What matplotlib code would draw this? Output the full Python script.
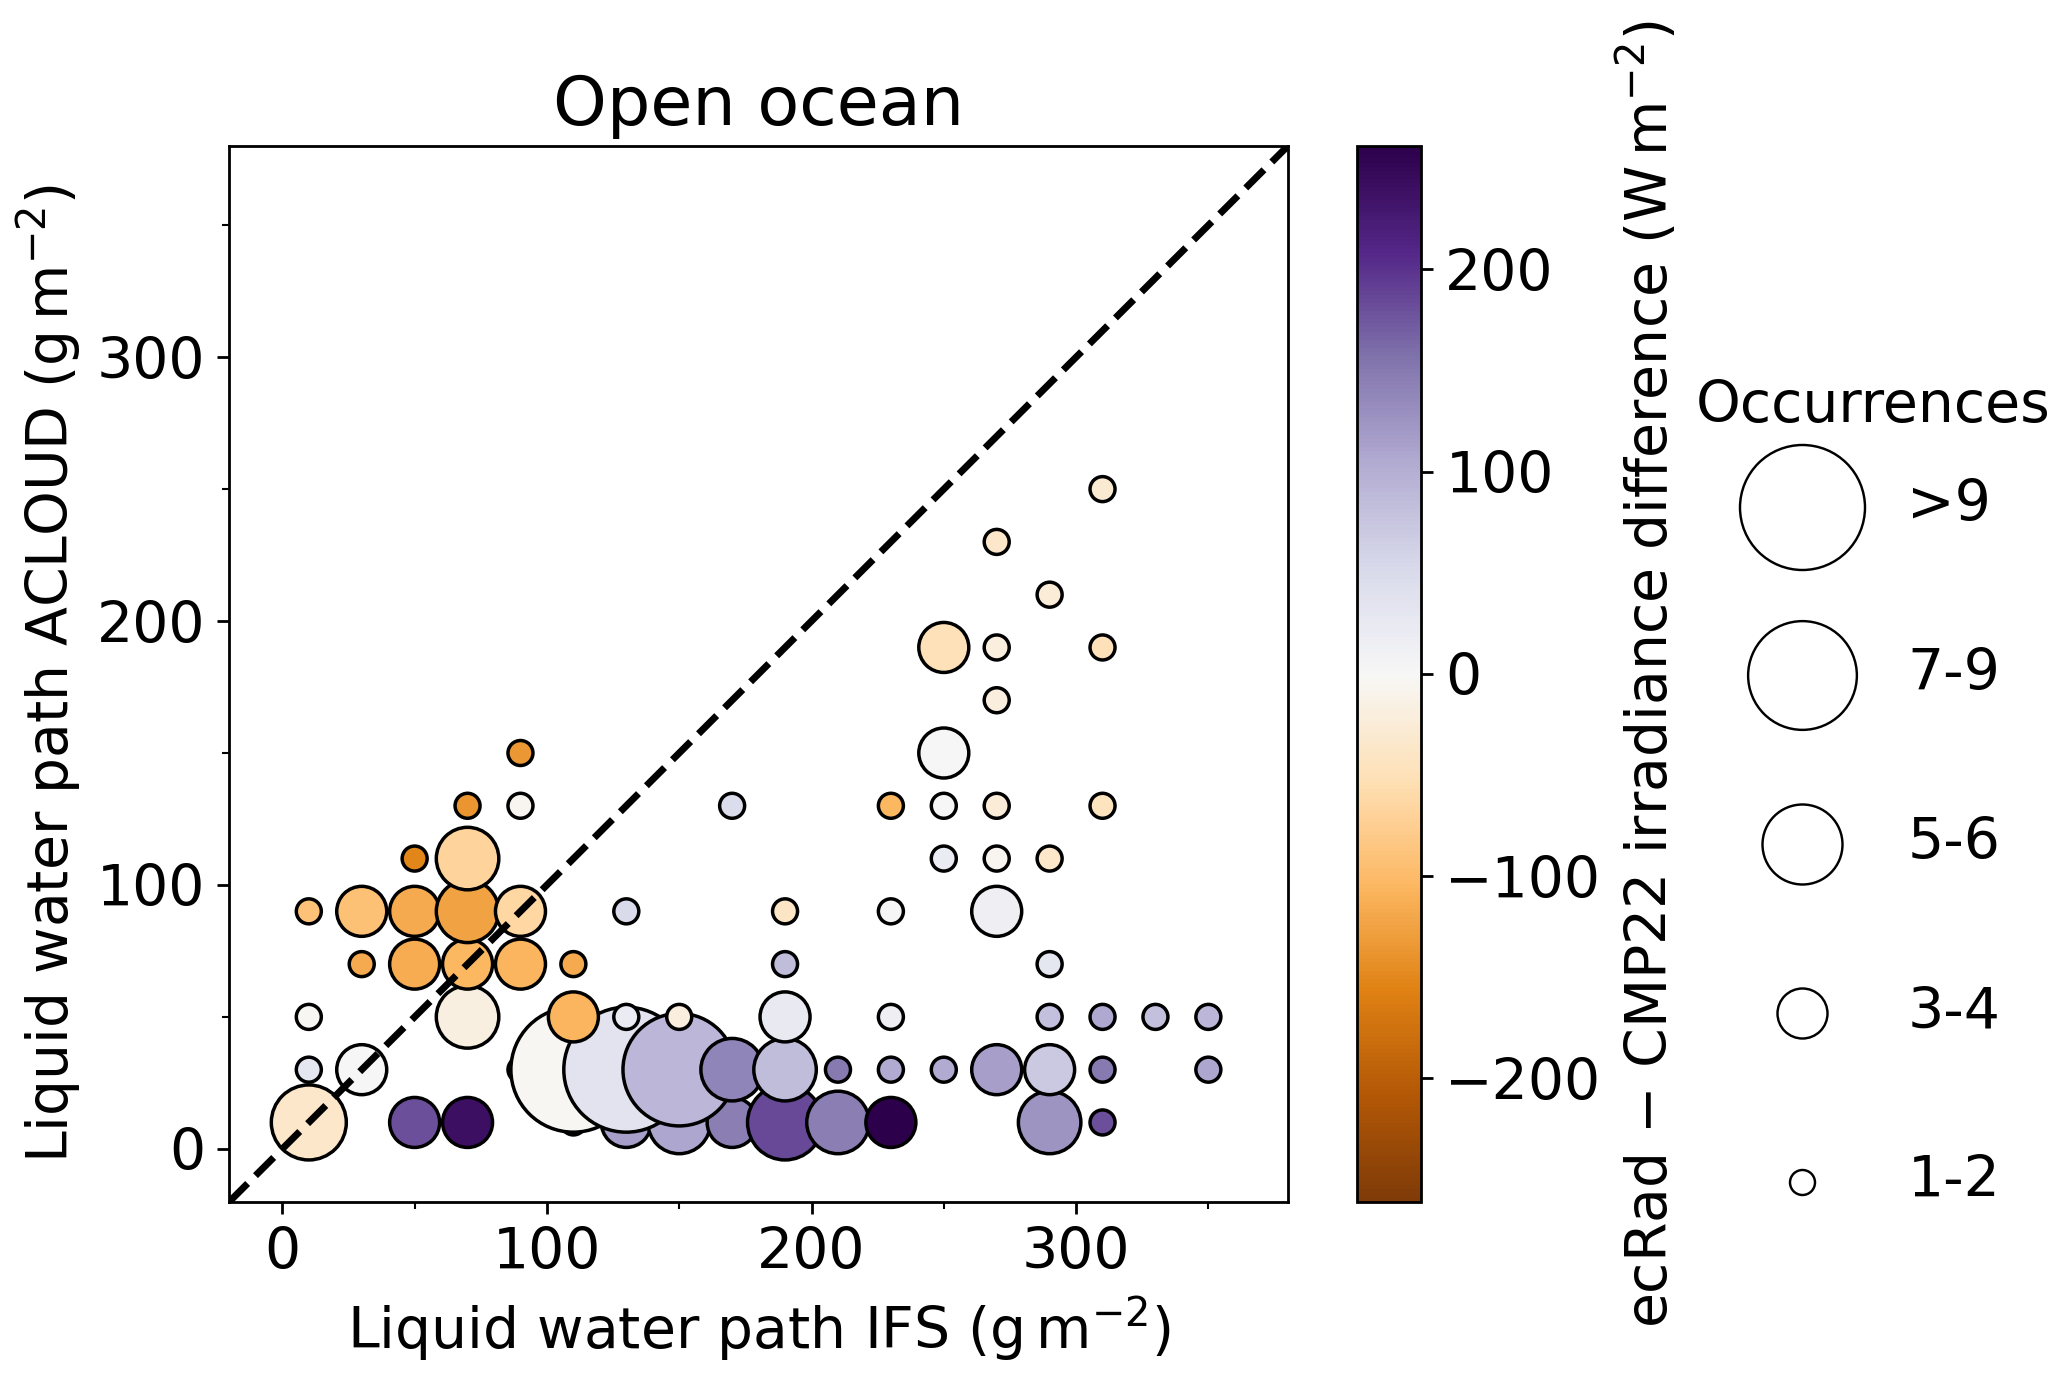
import numpy as np
import matplotlib
matplotlib.use("Agg")
import matplotlib.pyplot as plt
from matplotlib.ticker import MultipleLocator
from matplotlib.colors import Normalize

# ---- data (binned LWP, 20 g m-2 bins; row-major order y then x) ----
lwp_ifs = [10, 50, 70, 110, 130, 150, 170, 190, 210, 230, 290, 310,
           10, 30, 90, 110, 130, 150, 170, 190, 210, 230, 250, 270, 290, 310, 350,
           10, 70, 110, 130, 150, 190, 230, 290, 310, 330, 350,
           30, 50, 70, 90, 110, 190, 290,
           10, 30, 50, 70, 90, 130, 190, 230, 270,
           50, 70, 250, 270, 290,
           70, 90, 170, 230, 250, 270, 310,
           90, 250,
           270,
           250, 270, 310,
           290,
           270,
           310]
lwp_acloud = [10]*12 + [30]*15 + [50]*11 + [70]*7 + [90]*9 + [110]*5 + [130]*7 + [150]*2 + [170] + [190]*3 + [210] + [230] + [250]
irr_diff = [-35, 180, 240, 240, 115, 110, 145, 185, 145, 260, 125, 180,
            30, 0, 240, -3, 35, 90, 140, 85, 150, 104, 104, 115, 70, 150, 110,
            -3, -18, -108, 20, -20, 25, 15, 80, 108, 80, 90,
            -118, -115, -104, -108, -118, 85, 30,
            -90, -92, -118, -125, -65, 50, -40, 0, 15,
            -152, -68, 20, -5, -35,
            -138, -5, 45, -104, 0, -25, -45,
            -135, 0,
            -20,
            -50, -20, -50,
            -25,
            -35,
            -30]
occurrences = [6, 4, 4, 2, 4, 5, 4, 6, 5, 4, 5, 2,
               2, 4, 2, 10, 10, 9, 5, 5, 2, 2, 2, 4, 4, 2, 2,
               2, 5, 4, 2, 2, 4, 2, 2, 2, 2, 2,
               2, 4, 4, 4, 2, 2, 2,
               2, 4, 4, 5, 4, 2, 2, 2, 4,
               2, 5, 2, 2, 2,
               2, 2, 2, 2, 2, 2, 2,
               2, 4,
               2,
               4, 2, 2,
               2,
               2,
               2]
legend_labels = ["1-2", "3-4", "5-6", "7-9", ">9"]
legend_counts = [2, 4, 6.4, 8.7, 10]
cbar_ticks = [-200, -100, 0, 100, 200]
vlim = 261

FS = 16.4


def size_of(n):
    return (3.6 * np.asarray(n, dtype=float)) ** 2


fig = plt.figure(figsize=(2067 / 250, 1378 / 250), dpi=250)
plt.rcParams["font.size"] = FS

ax = fig.add_axes([0.111, 0.128, 0.512, 0.766])
cax = fig.add_axes([0.6565, 0.128, 0.031, 0.766])

norm = Normalize(vmin=-vlim, vmax=vlim)
sc = ax.scatter(lwp_ifs, lwp_acloud, s=size_of(occurrences), c=irr_diff,
                cmap="PuOr", norm=norm, edgecolors="black", linewidths=1.0,
                zorder=2)
ax.plot([-20, 380], [-20, 380], ls="--", color="black", lw=2, zorder=3)

ax.set_xlim(-20, 380)
ax.set_ylim(-20, 380)
ax.xaxis.set_major_locator(MultipleLocator(100))
ax.yaxis.set_major_locator(MultipleLocator(100))
ax.xaxis.set_minor_locator(MultipleLocator(50))
ax.yaxis.set_minor_locator(MultipleLocator(50))
ax.tick_params(labelsize=FS)
ax.set_title("Open ocean", fontsize=19.7)
ax.set_xlabel("Liquid water path IFS (g$\\,$m$^{-2}$)", fontsize=FS)
ax.set_ylabel("Liquid water path ACLOUD (g$\\,$m$^{-2}$)", fontsize=FS)

cb = fig.colorbar(sc, cax=cax, ticks=cbar_ticks)
cb.ax.tick_params(labelsize=FS)
cb.set_label("ecRad \u2212 CMP22 irradiance difference (W$\\,$m$^{-2}$)", fontsize=FS)

handles = [ax.scatter([], [], s=size_of(n), facecolor="white", edgecolor="black",
                      linewidths=0.7) for n in legend_counts]
leg = fig.legend(handles[::-1], legend_labels[::-1], title="Occurrences",
                 loc="center", bbox_to_anchor=(0.906, 0.4238), frameon=False,
                 fontsize=FS, title_fontsize=FS, labelspacing=2.0,
                 handletextpad=0.85, borderpad=0.4)
# tighter gap between the legend title and the first entry
leg._legend_box.sep = 12.8

fig.savefig("out.png", dpi=250)
